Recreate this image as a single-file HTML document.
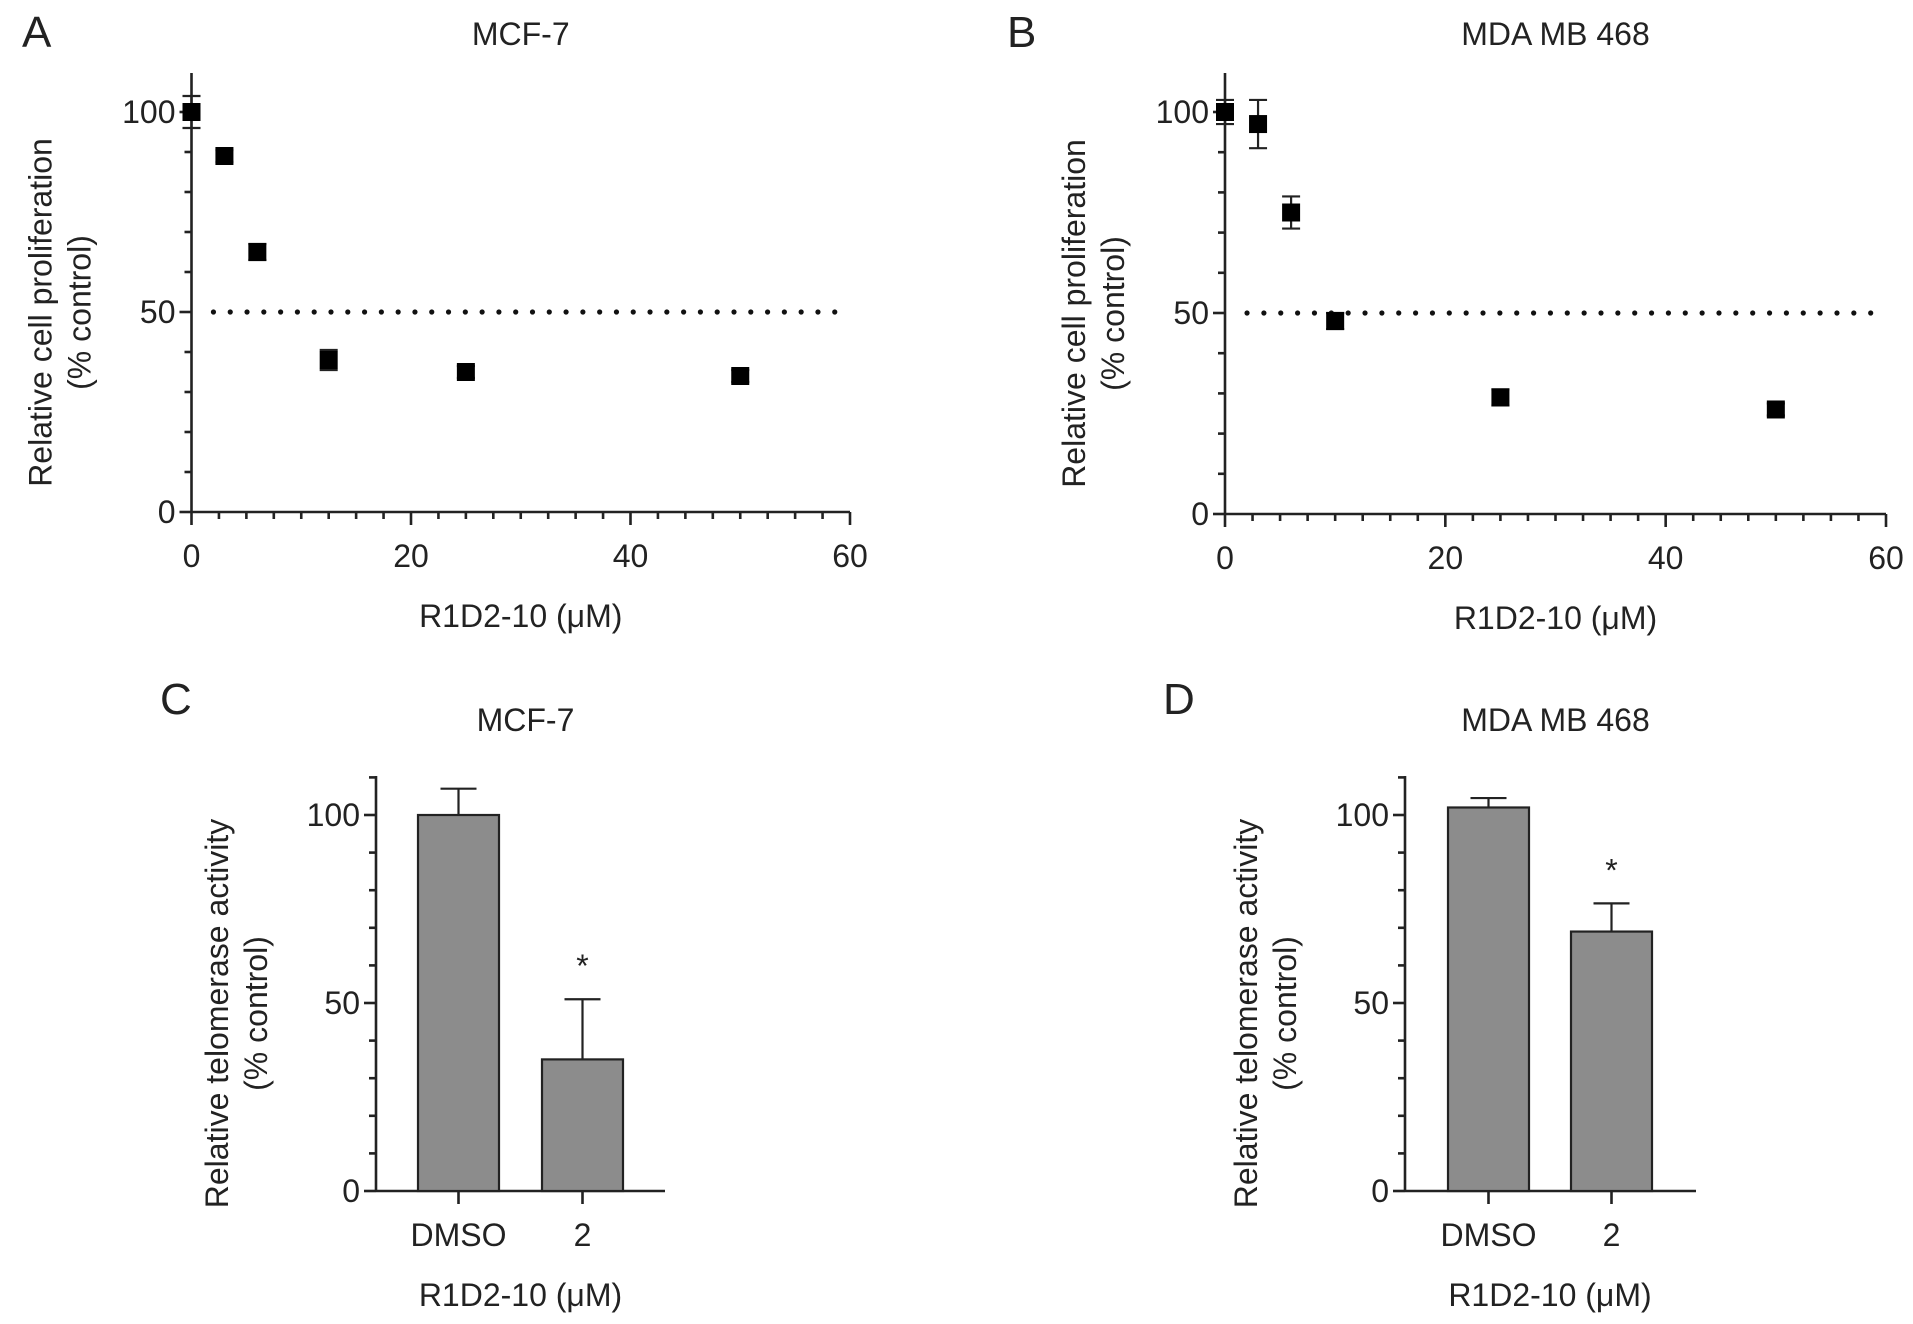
<!DOCTYPE html>
<html><head><meta charset="utf-8"><style>
html,body{margin:0;padding:0;background:#fff;}
svg{display:block;font-family:"Liberation Sans",Arial,sans-serif;}
</style></head><body>
<svg id="fig" width="1913" height="1324" viewBox="0 0 1913 1324"></svg>
<script>
const aX=[0,3,6,12.5,25,50];
const aY=[100,89,65,38,35,34];
const aE=[4,1.5,2,2.5,1.5,1.5];
const bX=[0,3,6,10,25,50];
const bY=[100,97,75,48,29,26];
const bE=[3,6,4,2,2,1.5];
const cCats=["DMSO","2"];
const cVals=[100,35];
const cErr=[7,16];
const dCats=["DMSO","2"];
const dVals=[102,69];
const dErr=[2.5,7.5];
const xTicks=[0,20,40,60];
const yTicks=[0,50,100];

const svg=document.getElementById('fig');
const NS='http://www.w3.org/2000/svg';
const FS=32;
function el(t,a,p,txt){const e=document.createElementNS(NS,t);for(const k in a)e.setAttribute(k,a[k]);if(txt!==undefined)e.textContent=txt;(p||svg).appendChild(e);return e;}
function line(g,x1,y1,x2,y2,w){return el('line',{x1,y1,x2,y2,stroke:'#222','stroke-width':w||2.6},g);}
function text(g,x,y,s,size,anchor,extra){const t=el('text',Object.assign({x,y,'font-size':size,'text-anchor':anchor||'middle',fill:'#222'},extra||{}),g,s);return t;}

function scatter(name,letter,title,px,py,pe,L,R,T,Y0,Y100,lx,ly){
  const g=el('g',{});
  
  
  const sx=v=>L+(R-L)*v/60, sy=v=>Y0+(Y100-Y0)*v/100;
  const lt=text(g,lx,ly,letter,44,'start');
  
  const tt=text(g,(L+R)/2,45,title,FS);
  
  line(g,L,T,L,Y0);line(g,L,Y0,R,Y0);
  for(let v=0;v<=110;v+=10){if(sy(v)<T)break;line(g,L-(v%50==0?12:7),sy(v),L,sy(v));}
  for(let v=0;v<=60;v+=2.5){line(g,sx(v),Y0,sx(v),Y0+(v%20==0?13:7));}
  yTicks.forEach(v=>{const t=text(g,L-16,sy(v)+11,String(v),FS,'end');});
  xTicks.forEach(v=>{const t=text(g,sx(v),Y0+55,String(v),FS);});
  const xt=text(g,(L+R)/2,Y0+115,'R1D2-10 (\u03bcM)',FS);
  
  const yt=el('text',{transform:`translate(${L-140},${(T+Y0)/2+20}) rotate(-90)`,'font-size':FS,'text-anchor':'middle',fill:'#222'},g);
  
  el('tspan',{x:0,dy:0},yt,'Relative cell proliferation');
  el('tspan',{x:0,dy:39},yt,'(% control)');
  for(let v=2;v<=60;v+=1.53){el('circle',{cx:sx(v),cy:sy(50),r:2.6,fill:'#111'},g);}
  px.forEach((x,i)=>{
    const cx=sx(x),cy=sy(py[i]),e=pe[i];
    line(g,cx,sy(py[i]+e),cx,sy(py[i]-e),2.2);
    line(g,cx-9,sy(py[i]+e),cx+9,sy(py[i]+e),2.2);
    line(g,cx-9,sy(py[i]-e),cx+9,sy(py[i]-e),2.2);
    const r=el('rect',{x:cx-9,y:cy-9,width:18,height:18,fill:'#000'},g);
    
  });
}
function bars(name,letter,title,cats,vals,err,L,R,T,Y0,Y100,bx,bw,lx,ly,ty){
  const g=el('g',{});
  
  
  const sy=v=>Y0+(Y100-Y0)*v/100;
  const lt=text(g,lx,ly,letter,44,'start');
  
  const tt=text(g,(L+R)/2+5,ty,title,FS);
  
  line(g,L,T,L,Y0);line(g,L,Y0,R,Y0);
  for(let v=0;v<=110;v+=10){if(sy(v)<T)break;line(g,L-(v%50==0?12:7),sy(v),L,sy(v));}
  yTicks.forEach(v=>{const t=text(g,L-16,sy(v)+11,String(v),FS,'end');});
  const yt=el('text',{transform:`translate(${L-148},${(T+Y0)/2+30}) rotate(-90)`,'font-size':FS,'text-anchor':'middle',fill:'#222'},g);
  
  el('tspan',{x:0,dy:0},yt,'Relative telomerase activity');
  el('tspan',{x:0,dy:39},yt,'(% control)');
  cats.forEach((c,i)=>{
    const x=bx[i],cx=x+bw/2;
    const top=sy(vals[i]+err[i]);
    line(g,cx,top,cx,sy(vals[i]),2.2);line(g,cx-18,top,cx+18,top,2.2);
    const r=el('rect',{x,y:sy(vals[i]),width:bw,height:Y0-sy(vals[i]),fill:'#8c8c8c',stroke:'#222','stroke-width':2.2},g);
    
    line(g,cx,Y0,cx,Y0+13);
    const t=text(g,cx,Y0+55,c,FS);
    if(i>0){const s=text(g,cx,top-22,'*',FS);}
  });
  const xt=text(g,(bx[0]+bx[1]+bw)/2,Y0+115,'R1D2-10 (\u03bcM)',FS);
  
}
scatter('panel-a-mcf7-proliferation','A','MCF-7',aX,aY,aE,191.5,850,73,512,112,22,47);
scatter('panel-b-mda-proliferation','B','MDA MB 468',bX,bY,bE,1225,1886,73,514,112,1007,47);
bars('panel-c-mcf7-telomerase','C','MCF-7',cCats,cVals,cErr,376,665,776,1191,815,[418,542],81,160,714,731);
bars('panel-d-mda-telomerase','D','MDA MB 468',dCats,dVals,dErr,1405,1696,776,1191,815,[1448,1571],81,1163,714,731);
</script>
</body></html>
